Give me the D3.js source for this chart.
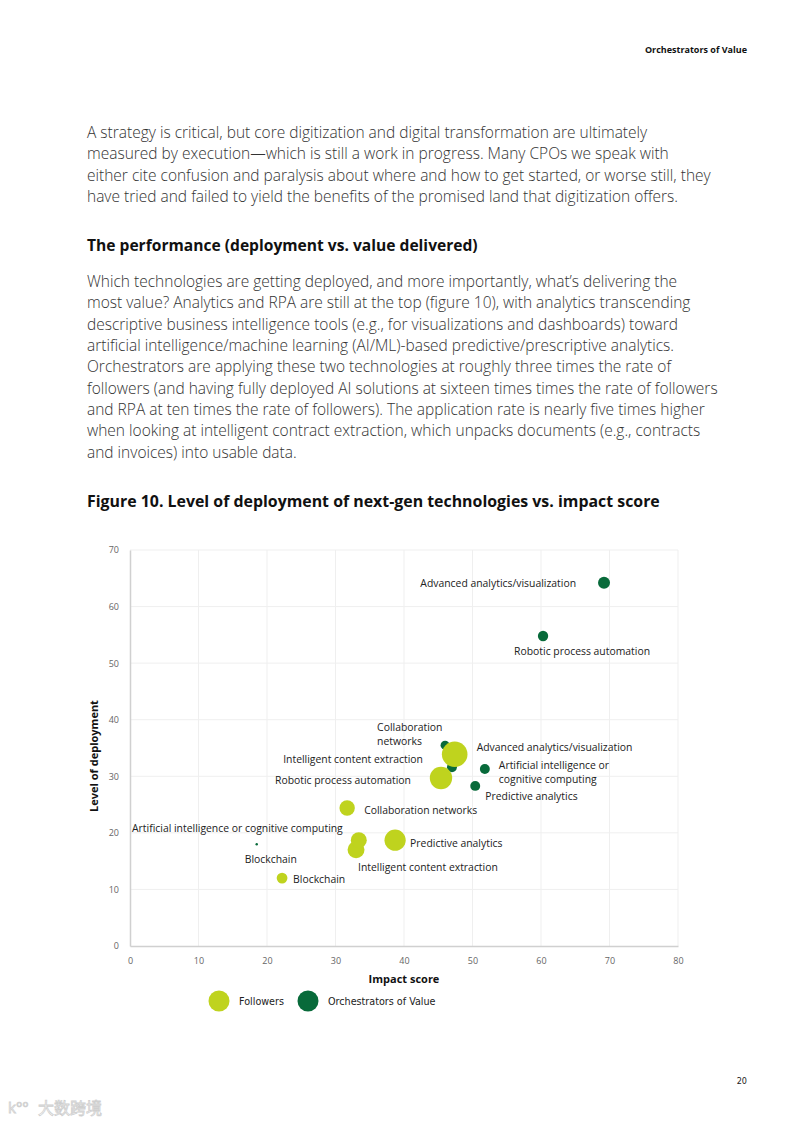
<!DOCTYPE html>
<html>
<head>
<meta charset="utf-8">
<script src="https://cdn.jsdelivr.net/npm/d3@7"></script>
<style>
  body { margin: 0; background: #fff; }
  svg text { font-family: "Open Sans", "Noto Sans", sans-serif; }
</style>
</head>
<body>
<div id="page"></div>
<script>
// technologies, same order for both series
var techs = ["Advanced analytics/visualization", "Robotic process automation",
    "Collaboration networks", "Intelligent content extraction",
    "Artificial intelligence or cognitive computing", "Predictive analytics", "Blockchain"];

// followers
var followerImpact = [47.4, 45.4, 31.7, 33.0, 33.4, 38.7, 22.2];
var followerDeploy = [33.9, 29.7, 24.4, 17.0, 18.7, 18.7, 12.0];
var followerSize   = [16.0, 12.2, 5.8, 7.0, 6.2, 11.0, 2.8];

// orchestrators of value
var orchImpact = [69.2, 60.3, 46.0, 47.0, 51.8, 50.4, 18.5];
var orchDeploy = [64.2, 54.8, 35.5, 31.6, 31.3, 28.3, 18.0];
var orchSize   = [3.5, 2.6, 2.0, 2.4, 2.4, 2.4, 0.15];

var xTicks = [0, 10, 20, 30, 40, 50, 60, 70, 80];
var yTicks = [0, 10, 20, 30, 40, 50, 60, 70];

var paraOne = [
  "A strategy is critical, but core digitization and digital transformation are ultimately",
  "measured by execution\u2014which is still a work in progress. Many CPOs we speak with",
  "either cite confusion and paralysis about where and how to get started, or worse still, they",
  "have tried and failed to yield the benefits of the promised land that digitization offers."
];
var paraTwo = [
  "Which technologies are getting deployed, and more importantly, what\u2019s delivering the",
  "most value? Analytics and RPA are still at the top (figure 10), with analytics transcending",
  "descriptive business intelligence tools (e.g., for visualizations and dashboards) toward",
  "artificial intelligence/machine learning (AI/ML)-based predictive/prescriptive analytics.",
  "Orchestrators are applying these two technologies at roughly three times the rate of",
  "followers (and having fully deployed AI solutions at sixteen times times the rate of followers",
  "and RPA at ten times the rate of followers). The application rate is nearly five times higher",
  "when looking at intelligent contract extraction, which unpacks documents (e.g., contracts",
  "and invoices) into usable data."
];

var svg = d3.select('#page').append('svg')
    .attr('width', 793).attr('height', 1122);

// page header / text
svg.append('text').attr('x', 747).attr('y', 53).attr('text-anchor', 'end')
    .style('font-size', '9px').style('font-weight', 700).attr('fill', '#111')
    .text('Orchestrators of Value');

function para(lines, y0) {
  svg.append('g').selectAll('text').data(lines).enter().append('text')
      .attr('x', 87).attr('y', function(d, i) { return y0 + i * 21.35; })
      .style('font-size', '15.5px').style('font-weight', 300).attr('fill', '#333')
      .text(function(d) { return d; });
}
para(paraOne, 138);
svg.append('text').attr('x', 87).attr('y', 251)
    .style('font-size', '15.6px').style('font-weight', 700).attr('fill', '#111')
    .text('The performance (deployment vs. value delivered)');
para(paraTwo, 287);
svg.append('text').attr('x', 87).attr('y', 507)
    .style('font-size', '15.9px').style('font-weight', 700).attr('fill', '#111')
    .text('Figure 10. Level of deployment of next-gen technologies vs. impact score');

// chart
var plotLeft = 130, plotRight = 678, plotTop = 550, plotBottom = 946;
var x = d3.scaleLinear().domain([0, 80]).range([plotLeft, plotRight]);
var y = d3.scaleLinear().domain([0, 70]).range([plotBottom, plotTop]);
var r = d3.scaleSqrt().domain([0, 16]).range([0, 12.8]);

var grid = svg.append('g');
grid.selectAll('line.v').data(xTicks.slice(1)).enter().append('line')
    .attr('x1', x).attr('x2', x).attr('y1', plotTop).attr('y2', plotBottom)
    .attr('stroke', '#efefef').attr('stroke-width', 1);
grid.selectAll('line.h').data(yTicks.slice(1)).enter().append('line')
    .attr('x1', plotLeft).attr('x2', plotRight).attr('y1', y).attr('y2', y)
    .attr('stroke', '#efefef').attr('stroke-width', 1);

var xAxis = svg.append('g').attr('transform', 'translate(0,' + plotBottom + ')')
    .call(d3.axisBottom(x).tickValues(xTicks).tickSize(0).tickPadding(12));
var yAxis = svg.append('g').attr('transform', 'translate(' + plotLeft + ',0)')
    .call(d3.axisLeft(y).tickValues(yTicks).tickSize(0).tickPadding(11));
[xAxis, yAxis].forEach(function(a) {
  a.select('.domain').attr('stroke', '#d0d0d0').attr('stroke-width', 1.5);
  a.selectAll('text').style('font-size', '9px').attr('fill', '#666')
      .style('font-family', '"Open Sans", sans-serif');
});

svg.append('text').attr('x', 404).attr('y', 983).attr('text-anchor', 'middle')
    .style('font-size', '11px').style('font-weight', 700).attr('fill', '#111')
    .text('Impact score');
svg.append('text').attr('transform', 'translate(98,756) rotate(-90)')
    .attr('text-anchor', 'middle')
    .style('font-size', '11px').style('font-weight', 700).attr('fill', '#111')
    .text('Level of deployment');

var followers = techs.map(function(t, i) {
  return {name: t, x: followerImpact[i], y: followerDeploy[i], s: followerSize[i]};
});
var orchs = techs.map(function(t, i) {
  return {name: t, x: orchImpact[i], y: orchDeploy[i], s: orchSize[i]};
});

var lime = '#bfd31e', dark = '#086a3a';

svg.append('g').selectAll('circle').data(orchs).enter().append('circle')
    .attr('cx', function(d) { return x(d.x); })
    .attr('cy', function(d) { return y(d.y); })
    .attr('r', function(d) { return r(d.s); })
    .attr('fill', dark);
svg.append('g').selectAll('circle').data(followers).enter().append('circle')
    .attr('cx', function(d) { return x(d.x); })
    .attr('cy', function(d) { return y(d.y); })
    .attr('r', function(d) { return r(d.s); })
    .attr('fill', lime);

// label placement: offsets from the bubble centre
var orchLabels = [
  {dx: -28, dy: 4, anchor: 'end'},
  {dx: -29, dy: 19, anchor: 'start'},
  {dx: -68, dy: -14, anchor: 'start', lines: ['Collaboration', 'networks']},
  {dx: -29, dy: -4, anchor: 'end'},
  {dx: 14, dy: 0, anchor: 'start', lines: ['Artificial intelligence or', 'cognitive computing']},
  {dx: 10, dy: 14, anchor: 'start'},
  {dx: -12, dy: 19, anchor: 'start'}
];
var followerLabels = [
  {dx: 22, dy: -3, anchor: 'start'},
  {dx: -30, dy: 6, anchor: 'end'},
  {dx: 17, dy: 6, anchor: 'start'},
  {dx: 2, dy: 21, anchor: 'start'},
  {dx: -16, dy: -8, anchor: 'end'},
  {dx: 15, dy: 7, anchor: 'start'},
  {dx: 11, dy: 5, anchor: 'start'}
];

function labels(pts, place) {
  var g = svg.append('g');
  pts.forEach(function(d, i) {
    var p = place[i];
    var lines = p.lines || [d.name];
    var t = g.append('text')
        .attr('x', x(d.x) + p.dx).attr('y', y(d.y) + p.dy)
        .attr('text-anchor', p.anchor)
        .style('font-size', '10.4px').attr('fill', '#222');
    lines.forEach(function(l, j) {
      t.append('tspan').attr('x', x(d.x) + p.dx).attr('dy', j ? 14 : 0).text(l);
    });
  });
}
labels(orchs, orchLabels);
labels(followers, followerLabels);

// legend
var legend = svg.append('g').attr('transform', 'translate(0,1001)');
[{c: lime, t: 'Followers', cx: 219}, {c: dark, t: 'Orchestrators of Value', cx: 308}]
  .forEach(function(l) {
    legend.append('circle').attr('cx', l.cx).attr('cy', 0).attr('r', 10.5).attr('fill', l.c);
    legend.append('text').attr('x', l.cx + 20).attr('y', 4)
        .style('font-family', '"Liberation Sans Narrow", "DejaVu Sans Condensed", sans-serif')
        .style('font-size', '10.7px').attr('fill', '#222').text(l.t);
  });

// footer
svg.append('text').attr('x', 747).attr('y', 1084).attr('text-anchor', 'end')
    .style('font-family', '"Liberation Sans Narrow", "DejaVu Sans Condensed", sans-serif')
    .style('font-size', '9px').attr('fill', '#222').text('20');
svg.append('text').attr('x', 8).attr('y', 1113)
    .style('font-size', '15px').attr('fill', '#fff').attr('stroke', '#cfcfcf').attr('stroke-width', 0.8)
    .text('k\u00b0\u00b0');
svg.append('text').attr('x', 38).attr('y', 1114)
    .style('font-family', '"Noto Sans CJK SC", sans-serif')
    .style('font-size', '16px').attr('fill', '#fff').attr('stroke', '#cfcfcf').attr('stroke-width', 0.8)
    .text('大数跨境');
</script>
</body>
</html>
